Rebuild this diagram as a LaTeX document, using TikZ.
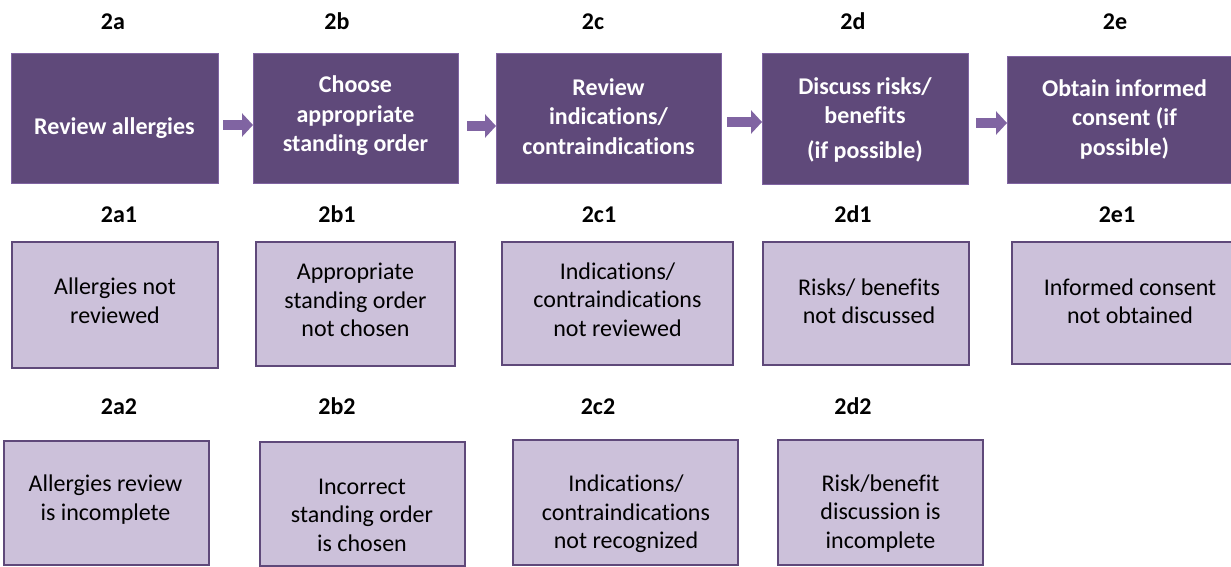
\documentclass[tikz,border=0pt]{standalone}
\usepackage{fontspec}
\setmainfont{Carlito}[Ligatures=NoCommon]
\usetikzlibrary{arrows.meta}

\definecolor{darkpurple}{HTML}{5F497A}
\definecolor{lightpurple}{HTML}{CCC1DA}
\definecolor{arrowpurple}{HTML}{8064A2}

\tikzset{
  stepbox/.style={draw=arrowpurple, line width=0.8pt, fill=darkpurple,
    anchor=north west, inner sep=0pt, outer sep=0pt},
  failbox/.style={draw=darkpurple, line width=2.8pt, fill=lightpurple,
    anchor=north west, inner sep=0pt, outer sep=0pt},
  steptext/.style={text=white, align=center, inner sep=0pt,
    font=\bfseries\fontsize{24}{29.5}\selectfont},
  failtext/.style={text=black, align=center, inner sep=0pt,
    font=\fontsize{24}{28.5}\selectfont},
  tag/.style={anchor=base, inner sep=0pt, font=\bfseries\fontsize{24}{29}\selectfont},
  flow/.style={draw=arrowpurple, line width=10pt, line cap=butt,
    -{Triangle[length=11pt,width=23pt]}}
}

\begin{document}
\begin{tikzpicture}[x=1pt, y=-1pt]
  \path[use as bounding box, clip] (0,0) rectangle (1231,567);
  \fill[white] (0,0) rectangle (1231,567);

  % ---- main steps ----
  \node[stepbox, minimum width=207pt, minimum height=130pt] (s2a) at (11,53) {};
  \node[stepbox, minimum width=205pt, minimum height=130pt] (s2b) at (253,53) {};
  \node[stepbox, minimum width=225pt, minimum height=130pt] (s2c) at (496,53) {};
  \node[stepbox, minimum width=206pt, minimum height=131pt] (s2d) at (762,53) {};
  \node[stepbox, minimum width=235pt, minimum height=127pt] (s2e) at (1007,56) {};

  \node[steptext] (t2a) at (114.5,128.5) {Review allergies};
  \node[steptext] (t2b) at (355.5,116) {Choose\\appropriate\\standing order};
  \node[steptext] (t2c) at (608.5,116.5) {Review\\indications/\\contraindications};
  \node[steptext] (t2d) at (865,119.5) {Discuss risks/\\benefits\\[5pt](if possible)};
  \node[steptext] (t2e) at (1124.5,119) {Obtain informed\\consent (if\\possible)};

  \node[tag] (l2a) at (113,30) {2a};
  \node[tag] (l2b) at (337,30) {2b};
  \node[tag] (l2c) at (593,30) {2c};
  \node[tag] (l2d) at (853,30) {2d};
  \node[tag] (l2e) at (1115,30) {2e};

  % ---- flow arrows ----
  \draw[flow] ([xshift=5pt,yshift=-7pt]s2a.east) -- ([yshift=-7pt]s2a.east -| s2b.west);
  \draw[flow] ([xshift=9pt,yshift=-8pt]s2b.east) -- ([yshift=-8pt]s2b.east -| s2c.west);
  \draw[flow] ([xshift=6pt,yshift=-4pt]s2c.east) -- ([yshift=-4pt]s2c.east -| s2d.west);
  \draw[flow] ([xshift=8pt,yshift=-4.5pt]s2d.east) -- ([yshift=-4.5pt]s2d.east -| s2e.west);

  % ---- first failure row ----
  \node[failbox, minimum width=206pt, minimum height=126pt] (f2a1) at (12,242) {};
  \node[failbox, minimum width=199pt, minimum height=124pt] (f2b1) at (256,242) {};
  \node[failbox, minimum width=231pt, minimum height=123pt] (f2c1) at (502,242) {};
  \node[failbox, minimum width=206pt, minimum height=123pt] (f2d1) at (763,242) {};
  \node[failbox, minimum width=236pt, minimum height=122pt] (f2e1) at (1012,242) {};

  \node[failtext] (u2a1) at (115,300.5) {Allergies not\\reviewed};
  \node[failtext] (u2b1) at (355.5,300) {Appropriate\\standing order\\not chosen};
  \node[failtext] (u2c1) at (617.5,299.5) {Indications/\\contraindications\\not reviewed};
  \node[failtext] (u2d1) at (869,301.5) {Risks/ benefits\\not discussed};
  \node[failtext] (u2e1) at (1130,301.5) {Informed consent\\not obtained};

  \node[tag] (l2a1) at (119,222) {2a1};
  \node[tag] (l2b1) at (337,222) {2b1};
  \node[tag] (l2c1) at (599,222) {2c1};
  \node[tag] (l2d1) at (853,222) {2d1};
  \node[tag] (l2e1) at (1117,222) {2e1};

  % ---- second failure row ----
  \node[failbox, minimum width=205pt, minimum height=124pt] (f2a2) at (4,441) {};
  \node[failbox, minimum width=205pt, minimum height=124pt] (f2b2) at (260,442) {};
  \node[failbox, minimum width=225pt, minimum height=125pt] (f2c2) at (513,440) {};
  \node[failbox, minimum width=205pt, minimum height=125pt] (f2d2) at (778,440) {};

  \node[failtext] (u2a2) at (105.5,499.5) {Allergies review\\is incomplete};
  \node[failtext] (u2b2) at (362,515) {Incorrect\\standing order\\is chosen};
  \node[failtext] (u2c2) at (626,514) {Indications/\\contraindications\\not recognized};
  \node[failtext] (u2d2) at (880.5,513.5) {Risk/benefit\\discussion is\\incomplete};

  \node[tag] (l2a2) at (119,414) {2a2};
  \node[tag] (l2b2) at (337,414) {2b2};
  \node[tag] (l2c2) at (598,414) {2c2};
  \node[tag] (l2d2) at (853,414) {2d2};
\end{tikzpicture}
\end{document}
